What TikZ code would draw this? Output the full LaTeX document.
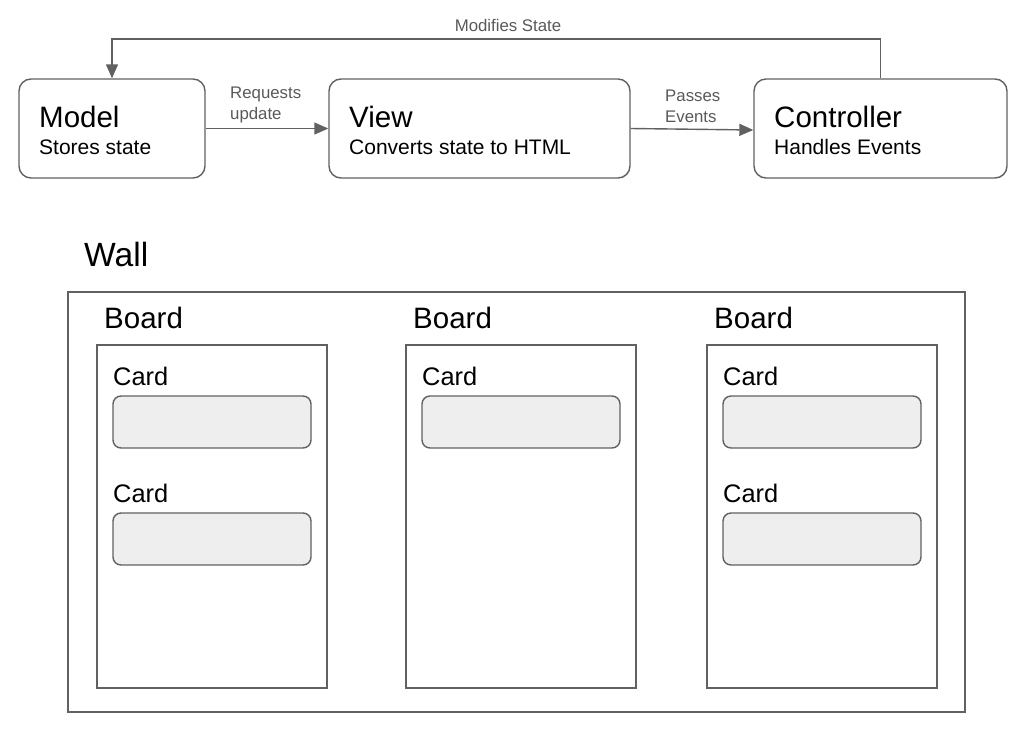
\documentclass[tikz,border=0pt]{standalone}
\usepackage{fontspec}
\setmainfont{Liberation Sans}
\usetikzlibrary{arrows.meta}
\definecolor{ln}{HTML}{616161}
\definecolor{lbl}{HTML}{595959}
\definecolor{cardfill}{HTML}{EEEEEE}
\tikzset{
  box/.style={draw=ln, line width=1.4pt, rounded corners=12pt, inner sep=0pt},
  rect/.style={draw=ln, line width=1.4pt, inner sep=0pt},
  cardbox/.style={draw=ln, line width=1.4pt, rounded corners=8pt, fill=cardfill, inner sep=0pt, minimum width=198pt, minimum height=52pt},
  arr/.style={draw=ln, line width=1.4pt, -{Triangle[length=14pt,width=12pt]}},
  title/.style={anchor=base west, inner sep=0pt, font=\fontsize{29.5}{32}\selectfont},
  sub/.style={anchor=base west, inner sep=0pt, font=\fontsize{21}{24}\selectfont},
  edgelbl/.style={anchor=base west, inner sep=0pt, text=lbl, font=\fontsize{16.8}{21}\selectfont},
  cardlbl/.style={anchor=base west, inner sep=0pt, font=\fontsize{25.4}{28}\selectfont},
}
\begin{document}
\begin{tikzpicture}[x=1pt, y=-1pt]
\useasboundingbox (0,0) rectangle (1025,737);
% top boxes
\node[box, minimum width=186pt, minimum height=99pt] (model) at (112,128.5) {};
\node[box, minimum width=301pt, minimum height=99pt] (view) at (479.5,128.5) {};
\node[box, minimum width=253pt, minimum height=99pt] (ctrl) at (880.5,128.5) {};
\node[title] (modelT) at (39,127) {Model};
\node[sub] (modelS) at (39,154) {Stores state};
\node[title] (viewT) at (349,127) {View};
\node[sub] (viewS) at (349,154) {Converts state to HTML};
\node[title] (ctrlT) at (774,127) {Controller};
\node[sub] (ctrlS) at (774,154) {Handles Events};
% connectors
\draw[arr] (model.east) -- (view.west);
\draw[arr] (view.east) -- ([yshift=-1.5pt]ctrl.west);
\draw[arr] (ctrl.north) -- (ctrl.north |- 0,39) -| (model.north);
\node[edgelbl] (l1a) at (230,98) {Requests};
\node[edgelbl] (l1b) at (230,119) {update};
\node[edgelbl] (l2a) at (665,101) {Passes};
\node[edgelbl] (l2b) at (665,122) {Events};
\node[edgelbl, anchor=base] (l3) at (508,31) {Modifies State};
% wall
\node[anchor=base west, inner sep=0pt, font=\fontsize{33.6}{36}\selectfont] (wallT) at (84,266) {Wall};
\node[rect, minimum width=897pt, minimum height=420pt] (wall) at (516.5,502) {};
% boards
\foreach \bx/\nm in {97/b1, 406/b2, 707/b3} {
  \node[rect, minimum width=230pt, minimum height=343pt] (\nm) at (\bx+115,516.5) {};
  \node[title] (\nm T) at (\bx+7,328) {Board};
}
% cards
\foreach \bx/\nm in {97/b1, 406/b2, 707/b3} {
  \node[cardlbl] (\nm c1T) at (\bx+16,385) {Card};
  \node[cardbox] (\nm c1) at (\bx+115,422) {};
}
\foreach \bx/\nm in {97/b1, 707/b3} {
  \node[cardlbl] (\nm c2T) at (\bx+16,502) {Card};
  \node[cardbox] (\nm c2) at (\bx+115,539) {};
}
\end{tikzpicture}
\end{document}
